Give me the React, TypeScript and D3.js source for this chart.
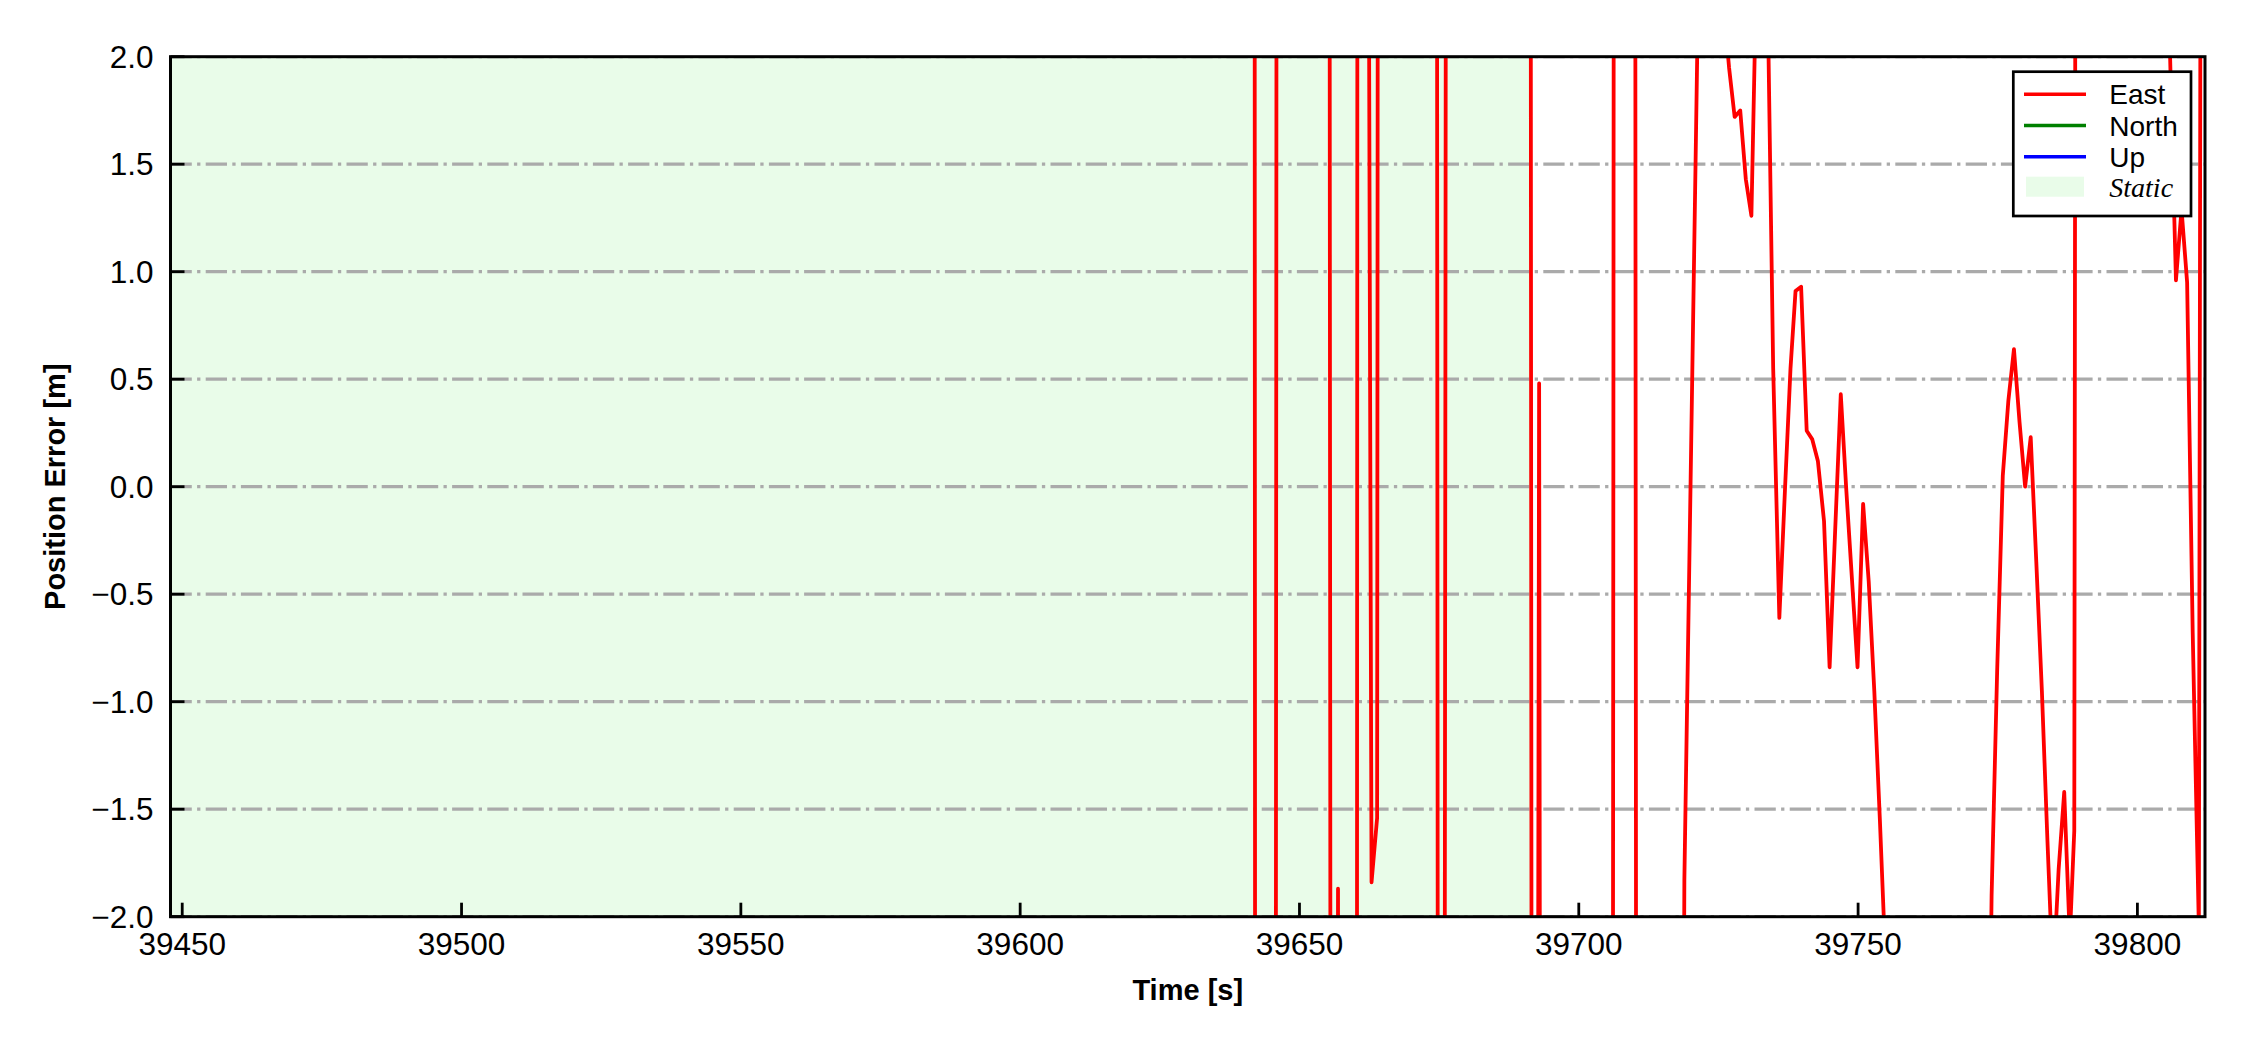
import React, { useEffect, useRef } from 'react';
import * as d3 from 'd3';

// East position error samples (time [s], error [m]); values beyond +-2 are off-scale
const eastTime = [
  39447.9, 39641.9, 39642.9, 39644.9, 39645.9, 39654.9, 39655.9, 39656.9, 39657.9, 39659.9,
  39660.9, 39661.9, 39662.9, 39663.9, 39664.9, 39673.9, 39674.9, 39675.9, 39676.9, 39690.9,
  39691.9, 39692.9, 39693.9, 39705.9, 39706.9, 39709.9, 39710.9, 39717.9, 39718.9, 39719.9,
  39720.9, 39721.9, 39724.9, 39725.9, 39726.9, 39727.9, 39728.9, 39729.9, 39730.9, 39731.8,
  39732.8, 39733.8, 39734.8, 39735.9, 39736.9, 39737.9, 39738.8, 39739.8, 39740.8, 39741.8,
  39742.8, 39743.9, 39744.9, 39745.9, 39746.9, 39747.9, 39748.9, 39749.9, 39750.9, 39751.9,
  39752.9, 39753.9, 39754.9, 39755.9, 39772.9, 39773.9, 39774.9, 39775.9, 39776.9, 39777.9,
  39778.9, 39779.9, 39780.9, 39781.9, 39782.9, 39783.9, 39784.9, 39785.9, 39786.9, 39787.9,
  39788.7, 39789.7, 39804.9, 39805.9, 39806.9, 39807.9, 39808.9, 39809.9, 39811.0, 39812.1
];
const eastValue = [
  9.0, 8.0, -60, -40, 3.0, 20, -15, -1.87, -20, -30,
  40, 7.1, -1.84, -1.54, 34, 30, -8, -5, 20, 20,
  -15, 0.48, -20, -10, 25, 10, -25, -8, -1.83, -0.17,
  1.5, 3.2, 2.6, 2.25, 1.95, 1.72, 1.75, 1.43, 1.26, 2.4,
  2.8, 2.3, 0.55, -0.61, -0.02, 0.55, 0.91, 0.93, 0.26, 0.22,
  0.12, -0.16, -0.84, -0.2, 0.43, -0.02, -0.43, -0.84, -0.08, -0.44,
  -0.95, -1.55, -2.2, -4, -4, -1.9, -0.85, 0.05, 0.4, 0.64,
  0.3, 0.0, 0.23, -0.35, -0.95, -1.65, -2.3, -1.78, -1.42, -2.1,
  -1.6, 20, 3.0, 1.95, 0.96, 1.29, 0.95, -0.68, -2.05, 15
];
// North and Up stay outside the plotted range, nothing of them is visible
const northTime: number[] = [];
const northValue: number[] = [];
const upTime: number[] = [];
const upValue: number[] = [];

const seriesNames = ['East', 'North', 'Up'];
const seriesColors = ['#ff0000', '#008000', '#0000ff'];

const staticSpan = [39440, 39691.7];
const staticLabel = 'Static';

const xDomain = [39447.9, 39812.1];
const yDomain = [-2, 2];
const xTicks = [39450, 39500, 39550, 39600, 39650, 39700, 39750, 39800];
const yTicks = [-2, -1.5, -1, -0.5, 0, 0.5, 1, 1.5, 2];

const xLabel = 'Time [s]';
const yLabel = 'Position Error [m]';

const W = 2250, H = 1050;

export default function App() {
  const ref = useRef<SVGSVGElement>(null);

  useEffect(() => {
    const svg = d3.select(ref.current);
    svg.selectAll('*').remove();

    let box = { left: 170.5, right: 2205, top: 56.7, bottom: 916.7 },
      font = 'Liberation Sans, Arial, sans-serif';

    let x = d3.scaleLinear().domain(xDomain).range([box.left, box.right]),
      y = d3.scaleLinear().domain(yDomain).range([box.bottom, box.top]);

    svg.append('defs').append('clipPath').attr('id', 'plotclip')
      .append('rect')
      .attr('x', box.left).attr('y', box.top)
      .attr('width', box.right - box.left).attr('height', box.bottom - box.top);

    const plot = svg.append('g').attr('clip-path', 'url(#plotclip)');

    // static period shading
    plot.append('rect')
      .attr('x', x(staticSpan[0]))
      .attr('y', box.top)
      .attr('width', x(staticSpan[1]) - x(staticSpan[0]))
      .attr('height', box.bottom - box.top)
      .attr('fill', '#e9fce9');

    // horizontal grid
    plot.append('g')
      .selectAll('line')
      .data(yTicks)
      .enter()
      .append('line')
      .attr('x1', box.left).attr('x2', box.right)
      .attr('y1', d => y(d)).attr('y2', d => y(d))
      .attr('stroke', '#aaaaaa')
      .attr('stroke-width', 3.3)
      .attr('stroke-dasharray', '21.3,5.3,3.3,5.3');

    const series = [
      { t: eastTime, v: eastValue },
      { t: northTime, v: northValue },
      { t: upTime, v: upValue }
    ];
    const line = d3.line<number>()
      .x((d, i, arr) => 0)
      .y(d => 0);

    series.forEach((s, k) => {
      if (!s.t.length) return;
      const pts = s.t.map((t, i) => [t, s.v[i]] as [number, number]);
      plot.append('path')
        .datum(pts)
        .attr('fill', 'none')
        .attr('stroke', seriesColors[k])
        .attr('stroke-width', 3.8)
        .attr('stroke-linejoin', 'round')
        .attr('d', d3.line<[number, number]>().x(d => x(d[0])).y(d => y(d[1])));
    });

    // spines
    svg.append('rect')
      .attr('x', box.left).attr('y', box.top)
      .attr('width', box.right - box.left).attr('height', box.bottom - box.top)
      .attr('fill', 'none').attr('stroke', '#000').attr('stroke-width', 3);

    // x ticks (inward)
    const xt = svg.append('g');
    xt.selectAll('line').data(xTicks).enter().append('line')
      .attr('x1', d => x(d)).attr('x2', d => x(d))
      .attr('y1', box.bottom).attr('y2', box.bottom - 14)
      .attr('stroke', '#000').attr('stroke-width', 2.8);
    xt.selectAll('text').data(xTicks).enter().append('text')
      .attr('x', d => x(d)).attr('y', 954.5)
      .attr('text-anchor', 'middle')
      .style('font-family', font).style('font-size', '31.5px')
      .text(d => d3.format('d')(d));

    // y ticks (inward)
    const yt = svg.append('g');
    yt.selectAll('line').data(yTicks).enter().append('line')
      .attr('x1', box.left).attr('x2', box.left + 14)
      .attr('y1', d => y(d)).attr('y2', d => y(d))
      .attr('stroke', '#000').attr('stroke-width', 2.8);
    yt.selectAll('text').data(yTicks).enter().append('text')
      .attr('x', 153.5).attr('y', d => y(d) + 11.2)
      .attr('text-anchor', 'end')
      .style('font-family', font).style('font-size', '31.5px')
      .text(d => d3.format('.1f')(d).replace('-', '\u2212'));

    // axis labels
    svg.append('text')
      .attr('x', (box.left + box.right) / 2).attr('y', 1000)
      .attr('text-anchor', 'middle')
      .style('font-family', font).style('font-size', '29px').style('font-weight', 'bold')
      .text(xLabel);
    svg.append('text')
      .attr('transform', `translate(65, ${(box.top + box.bottom) / 2}) rotate(-90)`)
      .attr('text-anchor', 'middle')
      .style('font-family', font).style('font-size', '29px').style('font-weight', 'bold')
      .text(yLabel);

    // legend
    const lg = svg.append('g');
    lg.append('rect')
      .attr('x', 2013.3).attr('y', 71.7).attr('width', 177.7).attr('height', 144.3)
      .attr('fill', '#fff').attr('stroke', '#000').attr('stroke-width', 2.7);
    seriesNames.forEach((name, i) => {
      const ly = 94.3 + i * 31.2;
      lg.append('line')
        .attr('x1', 2024).attr('x2', 2086).attr('y1', ly).attr('y2', ly)
        .attr('stroke', seriesColors[i]).attr('stroke-width', 3.5);
      lg.append('text')
        .attr('x', 2109.3).attr('y', ly + 10)
        .style('font-family', font).style('font-size', '28px')
        .text(name);
    });
    lg.append('rect')
      .attr('x', 2026).attr('y', 176.7).attr('width', 58).attr('height', 20)
      .attr('fill', '#e9fce9');
    lg.append('text')
      .attr('x', 2109.3).attr('y', 196.7)
      .style('font-family', 'Liberation Serif, Times New Roman, serif')
      .style('font-style', 'italic').style('font-size', '28px')
      .text(staticLabel);
  }, []);

  return (
    <svg ref={ref} width={W} height={H}
      style={{ position: 'absolute', left: 0, top: 0, background: '#fff', display: 'block' }} />
  );
}
